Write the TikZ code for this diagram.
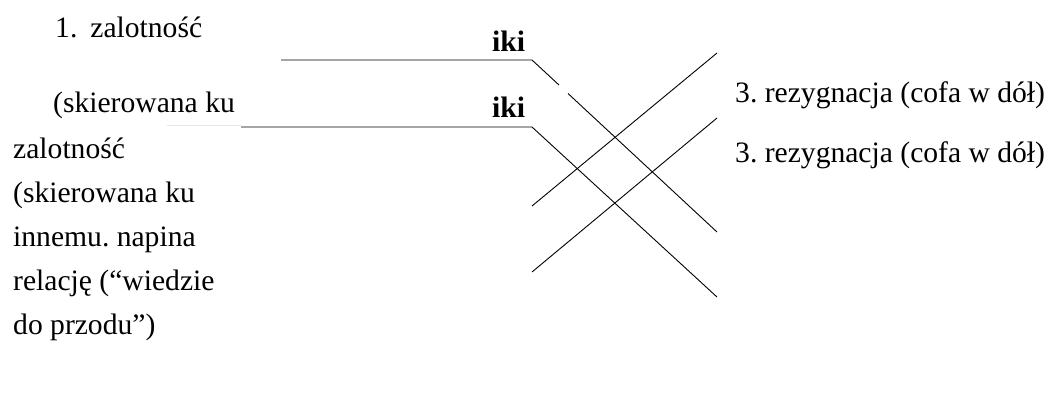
\documentclass[tikz,border=0pt]{standalone}
\usepackage{fontspec}
\setmainfont{Liberation Serif}
\frenchspacing
\begin{document}
\begin{tikzpicture}[x=1pt,y=-1pt,
  txt/.style={anchor=base west,inner sep=0pt,font=\fontsize{29.6}{35}\selectfont},
  bold/.style={txt,font=\fontsize{29.6}{35}\selectfont\bfseries},
  ln/.style={line width=0.9pt,black}]
\useasboundingbox (0,0) rectangle (1060,405);
% texts
\node[txt] (t1) at (55,37) {1.\hspace{13pt}zalotność};
\node[txt] (t2) at (53,112) {(skierowana ku};
\node[txt] (l1) at (13,158) {zalotność};
\node[txt] (l2) at (13,202) {(skierowana ku};
\node[txt] (l3) at (13,246) {innemu. napina};
\node[txt] (l4) at (13,290) {relację (“wiedzie};
\node[txt] (l5) at (13,334) {do przodu”)};
\node[bold] (i1) at (492,51) {iki};
\node[bold] (i2) at (492,117) {iki};
\node[txt] (r1) at (735,102) {3. rezygnacja (cofa w dół)};
\node[txt] (r2) at (735,162) {3. rezygnacja (cofa w dół)};
% coordinates
\coordinate (a0) at (281,60);
\coordinate (a1) at (532,60);
\coordinate (a2) at (559,85);
\coordinate (a3) at (568,93.5);
\coordinate (a4) at (717,232);
\coordinate (b0) at (241,127);
\coordinate (b1) at (532,127);
\coordinate (b2) at (717,297);
\coordinate (c0) at (532,206);
\coordinate (c1) at (717,53);
\coordinate (d0) at (532,272);
\coordinate (d1) at (717,118);
\coordinate (g0) at (167,125);
\coordinate (g1) at (241,125);
% lines
\draw[ln] (a0) -- (a1) -- (a2);
\draw[ln] (a3) -- (a4);
\draw[ln] (b0) -- (b1) -- (b2);
\draw[ln] (c0) -- (c1);
\draw[ln] (d0) -- (d1);
\draw[line width=0.8pt,black!10] (g0) -- (g1);
\end{tikzpicture}
\end{document}
